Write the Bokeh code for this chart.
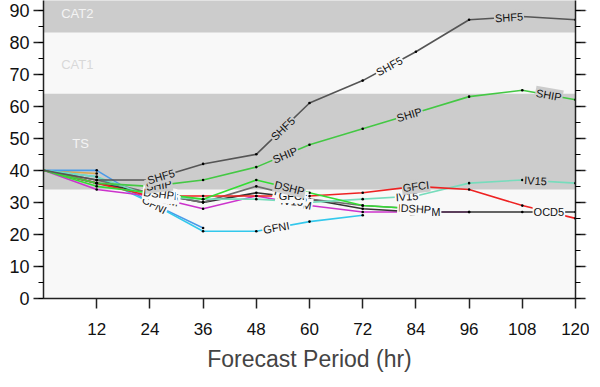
import numpy as np
from bokeh.plotting import figure
from bokeh.models import LinearAxis, FixedTicker, Label, ColumnDataSource, Range1d
from bokeh.core.properties import value
from bokeh.embed import file_html
from bokeh.resources import INLINE

# ---------------- data ----------------
hours = [0, 12, 24, 36, 48, 60, 72, 84, 96, 108, 120]
x_ticks = [12, 24, 36, 48, 60, 72, 84, 96, 108, 120]

SHF5 = [40, 37, 37, 42, 45, 61, 68, 77, 87, 88, 87]
SHIP = [40, 36, 35, 37, 41, 48, 53, 58, 63, 65, 62]
DSHP = [40, 35, 33, 31, 37, 33, 29, 28]
IVCN = [40, 37, 33, 30, 35, 31, 29, 28]
GFCI = [40, 36, 32, 32, 32, 32, 33, 35, 34, 29, 25]
IV15 = [40, 38, 32, 31, 31, 30, 31, 32, 36, 37, 36]
LGEM = [40, 34, 32, 28, 32, 29, 27, 27, 27]
OCD5 = [40, 36, 33, 30, 33, 31, 28, 27, 27, 27, 27]
GFNI = [40, 38, 30, 21, 21, 24, 26]
HWFI = [40, 40, 30, 22]
XTRP = [40, 39]

band_names = ["", "TS", "CAT1", "CAT2"]
band_bottom = [0, 34, 64, 83]
band_top = [34, 64, 83, 100]

# ---------------- styling ----------------
series = [
    ("XTRP", XTRP, "#d9a94e", []),
    ("HWFI", HWFI, "#4a9be8", []),
    ("GFNI", GFNI, "#33c8ec", [25, 52.5]),
    ("LGEM", LGEM, "#cc33cc", [27, 57, 86]),
    ("OCD5", OCD5, "#333333", [27, 56, 114]),
    ("IVCN", IVCN, "#6e6e6e", [26.5, 55, 83]),
    ("IV15", IV15, "#77dcbc", [26, 56, 82, 111]),
    ("GFCI", GFCI, "#ee2222", [27, 56, 84]),
    ("DSHP", DSHP, "#33dd33", [26, 55.5, 84]),
    ("SHIP", SHIP, "#44c844", [26, 54.5, 82.5, 114]),
    ("SHF5", SHF5, "#555555", [26.5, 54, 78, 105]),
]
band_colors = ["#f8f8f8", "#cccccc", "#f8f8f8", "#cccccc"]
band_text_colors = ["#f8f8f8", "#f4f4f4", "#d8d8d8", "#f4f4f4"]

FONT = "Liberation Sans"
Y_MAX = 93
FW, FH = 532, 298

p = figure(frame_width=FW, frame_height=FH, output_backend="svg", toolbar_location=None,
           x_range=Range1d(0, 120), y_range=Range1d(0, Y_MAX),
           min_border_left=43, min_border_right=9, min_border_top=0, min_border_bottom=80)
p.background_fill_color = "#f8f8f8"
p.border_fill_color = "white"
p.outline_line_color = None
p.grid.visible = False

# bands
p.quad(left=0, right=120, bottom=band_bottom, top=band_top, fill_color=band_colors, line_color=None)
band_lbl_x = [4, 6.5, 4, 4]
band_lbl_y = [10, 48.5, 73, 89]
for name, bx, by, tc in zip(band_names, band_lbl_x, band_lbl_y, band_text_colors):
    if name:
        p.add_layout(Label(x=bx, y=by, text=name, text_color=tc, text_font=FONT,
                           text_font_size="13px", text_baseline="middle", text_align="left"))

# lines
px_per_h = FW / 120.0
px_per_v = FH / Y_MAX
lab_x, lab_y, lab_t, lab_a, lab_bg = [], [], [], [], []
for name, vals, col, lpos in series:
    hs = hours[:len(vals)]
    p.line(hs, vals, line_color=col, line_width=1.6)
    for lx in lpos:
        ly = float(np.interp(lx, hs, vals))
        i = min(max(np.searchsorted(hs, lx) - 1, 0), len(hs) - 2)
        ang = np.arctan2((vals[i + 1] - vals[i]) * px_per_v, (hs[i + 1] - hs[i]) * px_per_h)
        lab_x.append(lx); lab_y.append(ly); lab_t.append(name); lab_a.append(float(ang))
        lab_bg.append("#cccccc" if (34 < ly < 65) or ly > 83 else "#f8f8f8")

# dots
for name, vals, col, lpos in series:
    hs = hours[1:len(vals)]
    p.scatter(hs, vals[1:], size=2.6, color="black", line_width=0)

src = ColumnDataSource(dict(x=lab_x, y=lab_y, t=lab_t, a=lab_a, bg=lab_bg))
p.text("x", "y", text="t", angle="a", source=src, text_align="center", text_baseline="middle",
       text_font=value(FONT), text_font_size="11px", text_color="#111111",
       background_fill_color="bg", padding=1)

# axes
p.xaxis.ticker = FixedTicker(ticks=x_ticks)
p.xaxis.major_tick_out = 10
p.xaxis.major_tick_in = 0
p.xaxis.minor_tick_line_color = None
p.xaxis.axis_label = "Forecast Period (hr)"
p.xaxis.axis_label_text_font = FONT
p.xaxis.axis_label_text_font_style = "normal"
p.xaxis.axis_label_text_font_size = "23px"
p.xaxis.axis_label_standoff = 8
p.xaxis.major_label_text_font = FONT
p.xaxis.major_label_text_font_size = "17px"
p.xaxis.major_label_standoff = 14

p.yaxis.ticker = FixedTicker(ticks=list(range(0, 91, 10)), minor_ticks=list(range(0, 95, 5)))
p.yaxis.major_tick_out = 10
p.yaxis.major_tick_in = 0
p.yaxis.minor_tick_out = 5
p.yaxis.minor_tick_in = 0
p.yaxis.major_label_text_font = FONT
p.yaxis.major_label_text_font_size = "18px"
p.yaxis.major_label_standoff = 4

ra = LinearAxis(ticker=FixedTicker(ticks=list(range(0, 91, 10)), minor_ticks=list(range(0, 95, 5))))
ra.major_tick_out = 10
ra.major_tick_in = 0
ra.minor_tick_out = 5
ra.minor_tick_in = 0
ra.major_label_text_font_size = "1px"
ra.major_label_standoff = 0
p.add_layout(ra, "right")

for ax in [p.xaxis[0], p.yaxis[0], ra]:
    ax.axis_line_width = 1.5
    ax.major_tick_line_width = 1.5
    ax.minor_tick_line_width = 1.2
    ax.axis_line_color = "#222222"
    ax.major_tick_line_color = "#222222"
ra.major_label_text_color = None
p.xaxis.major_label_text_color = "#111111"
p.yaxis.major_label_text_color = "#111111"

open("out.html", "w").write(file_html(p, INLINE))
